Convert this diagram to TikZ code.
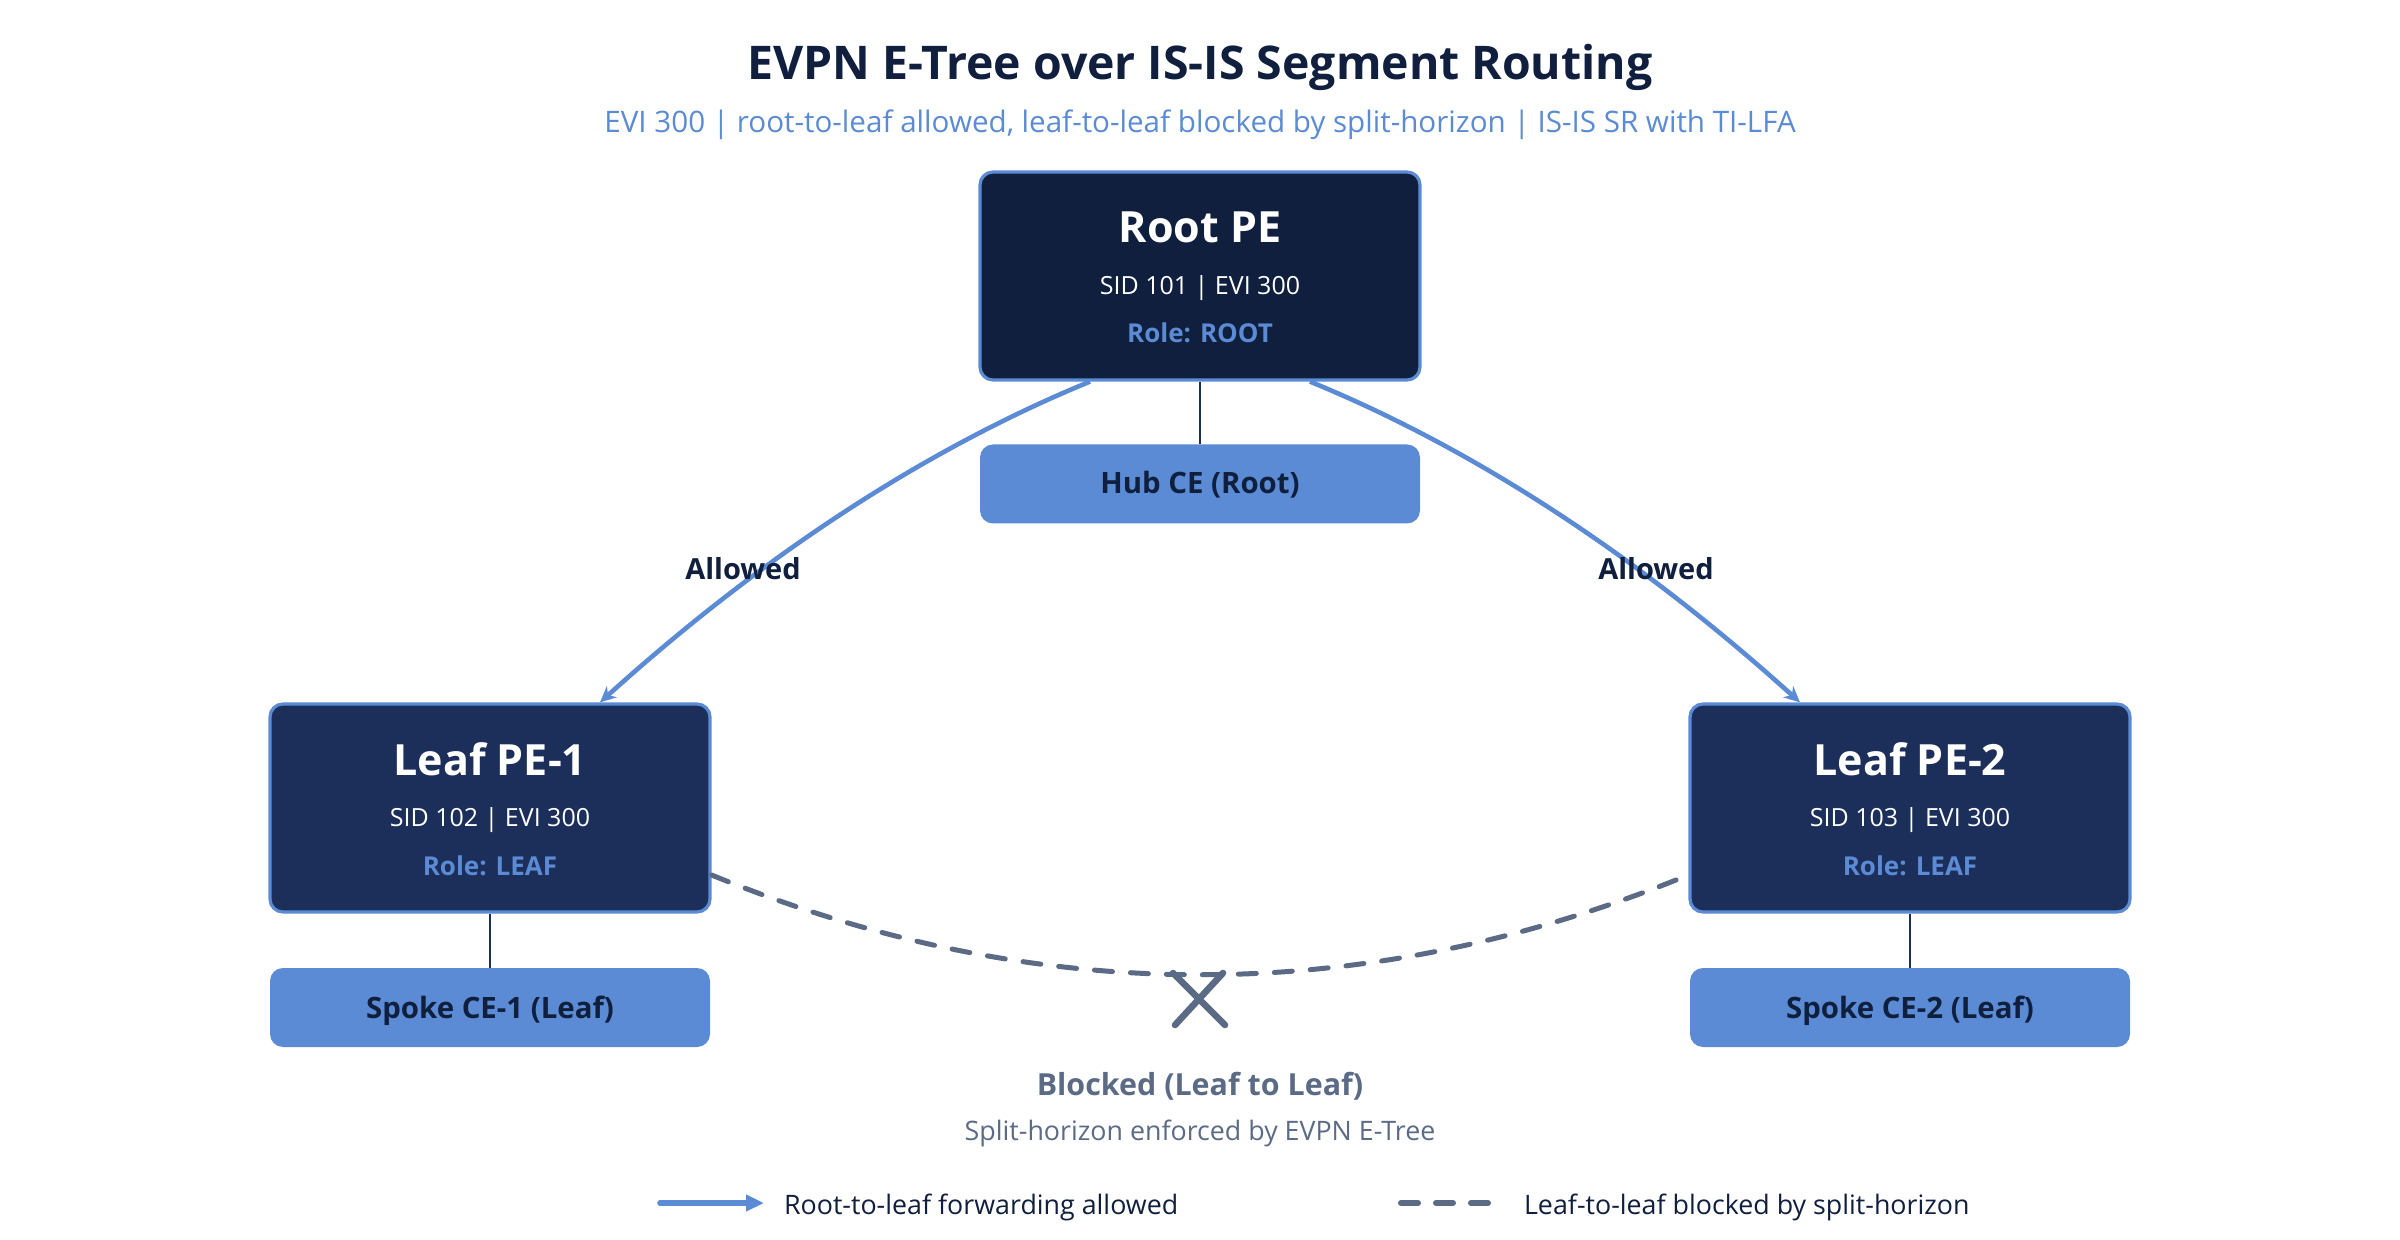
\documentclass[tikz,border=0pt]{standalone}
\usepackage{fontspec}
\setmainfont{Open Sans}
\usetikzlibrary{arrows.meta,calc}
\definecolor{navy}{HTML}{0F1F3D}
\definecolor{leafnavy}{HTML}{1C2E5A}
\definecolor{accent}{HTML}{5B8BD4}
\definecolor{slate}{HTML}{5B6B86}
\begin{document}
\begin{tikzpicture}[x=0.5pt,y=-0.5pt,
  pebox/.style={draw=accent, line width=1.6pt, rounded corners=6.5pt, minimum width=220pt, minimum height=104pt, inner sep=0pt},
  cebox/.style={fill=accent, rounded corners=6.5pt, minimum width=220pt, minimum height=39.5pt, inner sep=0pt},
  petitle/.style={anchor=base, text=white, font=\fontsize{21.5pt}{25pt}\selectfont\bfseries},
  peinfo/.style={anchor=base, text=white, font=\fontsize{12.5pt}{15pt}\selectfont},
  perole/.style={anchor=base, text=accent, font=\fontsize{13pt}{15pt}\selectfont\bfseries},
  cetext/.style={anchor=base, text=navy, font=\fontsize{14.7pt}{17pt}\selectfont\bfseries},
  celink/.style={draw=leafnavy, line width=1pt},
  allow/.style={draw=accent, line width=2.3pt, -{Stealth[length=8pt,width=7.5pt]}},
  allowlabel/.style={anchor=base, text=navy, font=\fontsize{14.5pt}{17pt}\selectfont\bfseries},
  blocked/.style={draw=slate, line width=2.5pt, line cap=round, dash pattern=on 9pt off 9pt},
  legendtext/.style={anchor=base west, text=navy, font=\fontsize{13.4pt}{16pt}\selectfont},
]
\useasboundingbox (0,0) rectangle (2400,1240);
\fill[white] (0,0) rectangle (2400,1240);

% title
\node[anchor=base, text=navy, font=\fontsize{23.2pt}{27pt}\selectfont\bfseries] (title) at (1200,80) {EVPN E-Tree over IS-IS Segment Routing};
\node[anchor=base, text=accent, font=\fontsize{14.8pt}{17pt}\selectfont] (subtitle) at (1200,133) {EVI 300 | root-to-leaf allowed, leaf-to-leaf blocked by split-horizon | IS-IS SR with TI-LFA};

% PE boxes
\node[pebox, fill=navy] (root) at (1200,276) {};
\node[pebox, fill=leafnavy] (leaf1) at (490,808) {};
\node[pebox, fill=leafnavy] (leaf2) at (1910,808) {};

\node[petitle] (roott) at (1200,243) {Root PE};
\node[peinfo] (rooti) at (1200,295) {SID 101 | EVI 300};
\node[perole] (rootr) at (1200,343) {Role: ROOT};

\node[petitle] (leaf1t) at (490,776) {Leaf PE-1};
\node[peinfo] (leaf1i) at (490,827) {SID 102 | EVI 300};
\node[perole] (leaf1r) at (490,875) {Role: LEAF};

\node[petitle] (leaf2t) at (1910,776) {Leaf PE-2};
\node[peinfo] (leaf2i) at (1910,827) {SID 103 | EVI 300};
\node[perole] (leaf2r) at (1910,875) {Role: LEAF};

% CE boxes
\node[cebox] (hub) at (1200,484) {};
\node[cetext] (hubt) at (1200,494) {Hub CE (Root)};
\node[cebox] (spoke1) at (490,1007.5) {};
\node[cetext] (spoke1t) at (490,1018) {Spoke CE-1 (Leaf)};
\node[cebox] (spoke2) at (1910,1007.5) {};
\node[cetext] (spoke2t) at (1910,1018) {Spoke CE-2 (Leaf)};

% CE links
\draw[celink] (root.south) -- (hub.north);
\draw[celink] (leaf1.south) -- (spoke1.north);
\draw[celink] (leaf2.south) -- (spoke2.north);

% allowed arrows
\draw[allow] ($(root.south)+(-110,0)$) .. controls (923,450) and (760,558) .. ($(leaf1.north)+(110,0)$);
\draw[allow] ($(root.south)+(110,0)$) .. controls (1477,450) and (1640,558) .. ($(leaf2.north)+(-110,0)$);
\node[allowlabel] (al1) at (743,580) {Allowed};
\node[allowlabel] (al2) at (1656,580) {Allowed};

% blocked curve
\draw[blocked] ($(leaf1.east)+(0,67)$) .. controls (1037,1008) and (1363,1008) .. ($(leaf2.west)+(0,67)$);
\coordinate (xc) at (1199,999);
\draw[draw=slate, line width=3.3pt, line cap=round] ($(xc)+(-26,-26)$) -- ($(xc)+(26,26)$);
\draw[draw=slate, line width=3.3pt, line cap=round] ($(xc)+(24,-26)$) -- ($(xc)+(-24,26)$);
\node[anchor=base, text=slate, font=\fontsize{15.2pt}{18pt}\selectfont\bfseries] (blk) at (1200,1095) {Blocked (Leaf to Leaf)};
\node[anchor=base, text=slate, font=\fontsize{13.4pt}{16pt}\selectfont] (blk2) at (1200,1140) {Split-horizon enforced by EVPN E-Tree};

% legend
\coordinate (la1) at (660,1203);
\coordinate (la2) at (764,1203);
\draw[draw=accent, line width=2.8pt, line cap=round, -{Triangle[length=9pt,width=8pt]}] (la1) -- (la2);
\node[legendtext] (lt1) at (777,1214) {Root-to-leaf forwarding allowed};
\coordinate (lb1) at (1401,1203);
\coordinate (lb2) at (1492,1203);
\draw[draw=slate, line width=3pt, line cap=round, dash pattern=on 8.5pt off 9pt] (lb1) -- (lb2);
\node[legendtext] (lt2) at (1517,1214) {Leaf-to-leaf blocked by split-horizon};
\end{tikzpicture}
\end{document}
